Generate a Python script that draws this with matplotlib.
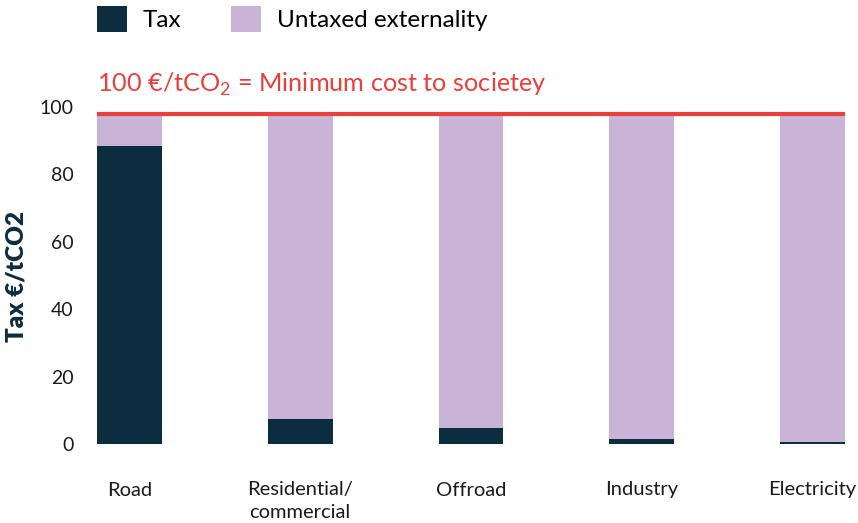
import matplotlib
matplotlib.use("Agg")
import matplotlib.pyplot as plt
import numpy as np

categories = ["Road", "Residential/\ncommercial", "Offroad", "Industry", "Electricity"]
tax = [88.4, 7.3, 4.8, 1.5, 0.7]
total = [97.5, 97.5, 97.5, 97.5, 97.5]
untaxed = [t - x for t, x in zip(total, tax)]
min_cost_level = 98
yticks = [0, 20, 40, 60, 80, 100]

plt.rcParams['font.family'] = ['Lato', 'DejaVu Sans']

NAVY = "#0c2d40"
LILAC = "#c9b4d8"
RED = "#e8403d"
TXT = "#1a1a1a"

W, H = 858, 523
fig = plt.figure(figsize=(W / 100, H / 100), dpi=100)
ax = fig.add_axes([97 / W, 1 - 444 / H, (845 - 97) / W, (444 - 107) / H])

x = np.arange(len(categories))
bw = 0.38
b1 = ax.bar(x, tax, width=bw, color=NAVY, label="Tax")
b2 = ax.bar(x, untaxed, bottom=tax, width=bw, color=LILAC, label="Untaxed externality")

ax.set_xlim(-bw / 2, len(categories) - 1 + bw / 2)
ax.set_ylim(0, 100)
ax.axhline(min_cost_level, color=RED, lw=3, zorder=5)
ax.text(0.0, 1.045, r"100 €/tCO$_\mathregular{2}$ = Minimum cost to societey",
        transform=ax.transAxes, color=RED, fontsize=18.2, ha="left", va="baseline")

for s in ax.spines.values():
    s.set_visible(False)
ax.set_yticks(yticks)
ax.set_xticks(x)
ax.set_xticklabels(categories, fontsize=14.5, color=TXT, linespacing=1.4)
ax.tick_params(axis="y", length=0, pad=17, labelsize=14, labelcolor=TXT)
ax.tick_params(axis="x", length=0, pad=27)

fig.text(17 / W, 1 - 277 / H, "Tax €/tCO2", rotation=90, ha="center", va="center",
         fontsize=17.5, fontweight="heavy", color=NAVY)

fig.legend(handles=[b1, b2], loc="upper left", bbox_to_anchor=(97 / W, 1 - 6 / H),
           ncol=2, frameon=False, fontsize=17.5, handlelength=1.23, handleheight=1.3,
           handletextpad=0.66, columnspacing=2.05, borderpad=0, borderaxespad=0)

fig.savefig("out.png", dpi=100)
